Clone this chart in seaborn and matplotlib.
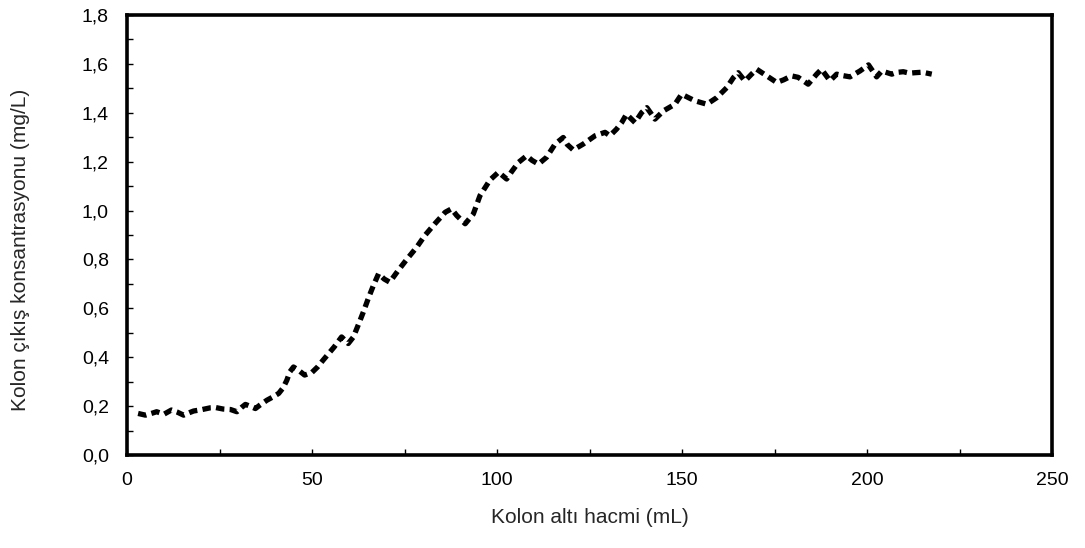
import matplotlib
matplotlib.use("Agg")
import matplotlib.pyplot as plt
import seaborn as sns
import pandas as pd
from matplotlib.ticker import MultipleLocator, FuncFormatter

volume = [3, 5, 7, 8, 10, 12, 13.5, 15.3, 17, 18, 20, 22.5, 24, 26, 28, 29.7, 31, 32, 33.5, 34.7,
          36, 37.8, 39.5, 41, 42.2, 43.2, 44, 45, 46.5, 48, 50, 51.5, 53, 54.5, 56, 58,
          59.8, 61.2, 63, 64, 65.2, 66.5, 68, 69.5, 71, 73.3, 75.6, 78.3, 80.5, 83.2, 86, 87.7,
          89.1, 91.4, 93.6, 95.4, 98.1, 100.4, 102.6, 104, 105.8, 108, 109.5, 111.2, 113.4,
          115.7, 117.9, 119, 120.6, 123.3, 126.5, 129.2, 130.5, 132.3, 133.7, 135, 137.3,
          139.1, 140.5, 142.7, 145, 148.1, 149.9, 152, 153.5, 156.7, 159.4, 162.1, 163.9,
          165.2, 167, 168.8, 170.2, 172.9, 175.6, 177.5, 179.6, 181.4, 184.1, 186.4, 187.7,
          190, 191.8, 193.5, 195.4, 198.1, 200.4, 202.6, 204, 206.7, 208, 209.8, 211.5, 213,
          215, 217.5]
conc = [0.170, 0.163, 0.172, 0.177, 0.167, 0.184, 0.176, 0.163, 0.174, 0.180, 0.185, 0.193,
        0.194, 0.188, 0.186, 0.177, 0.195, 0.207, 0.198, 0.190, 0.205, 0.224, 0.238, 0.252,
        0.275, 0.306, 0.340, 0.360, 0.345, 0.327, 0.338, 0.360, 0.388, 0.415, 0.442, 0.483,
        0.456, 0.483, 0.551, 0.590, 0.640, 0.690, 0.742, 0.720, 0.707, 0.755, 0.800, 0.850,
        0.898, 0.946, 0.993, 1.007, 0.980, 0.946, 0.986, 1.061, 1.125, 1.157, 1.129, 1.160,
        1.197, 1.224, 1.205, 1.190, 1.218, 1.272, 1.299, 1.270, 1.248, 1.272, 1.306, 1.320,
        1.306, 1.333, 1.360, 1.394, 1.360, 1.401, 1.421, 1.374, 1.408, 1.435, 1.476, 1.460,
        1.449, 1.435, 1.462, 1.503, 1.544, 1.564, 1.530, 1.558, 1.578, 1.551, 1.524, 1.535,
        1.551, 1.545, 1.517, 1.558, 1.578, 1.531, 1.558, 1.552, 1.547, 1.571, 1.596, 1.547,
        1.571, 1.558, 1.565, 1.568, 1.562, 1.564, 1.566, 1.558]

x_label = "Kolon altı hacmi (mL)"
y_label = "Kolon çıkış konsantrasyonu (mg/L)"

sns.set_style("white")
plt.rcParams['font.family'] = ['Liberation Sans', 'DejaVu Sans']

df = pd.DataFrame({"volume": volume, "conc": conc})

fig = plt.figure(figsize=(10.85, 5.48), dpi=100)
ax = fig.add_axes([127/1085, 1 - 455/548, (1052-127)/1085, (455-15)/548])

sns.lineplot(data=df, x="volume", y="conc", ax=ax, color="black", linewidth=3.8,
             linestyle=(0, (1.6, 1.0)), sort=False)

ax.set_xlim(0, 250)
ax.set_ylim(0, 1.8)
ax.xaxis.set_major_locator(MultipleLocator(50))
ax.xaxis.set_minor_locator(MultipleLocator(25))
ax.yaxis.set_major_locator(MultipleLocator(0.2))
ax.yaxis.set_minor_locator(MultipleLocator(0.1))
ax.yaxis.set_major_formatter(FuncFormatter(lambda v, p: f"{v:.1f}".replace(".", ",")))
ax.xaxis.set_major_formatter(FuncFormatter(lambda v, p: f"{v:.0f}"))

for s in ax.spines.values():
    s.set_linewidth(2.6)
    s.set_color("black")

ax.tick_params(axis="both", which="both", direction="in", color="black", width=1.0,
               labelsize=14, labelcolor="black")
ax.tick_params(axis="both", which="both", length=4)
ax.tick_params(axis="x", which="major", pad=12)
ax.tick_params(axis="y", which="major", pad=13)
ax.tick_params(axis="y", which="both", left=True)
ax.tick_params(axis="x", which="both", bottom=True)

ax.set_xlabel(x_label, fontsize=15)
ax.set_ylabel(y_label, fontsize=15)
ax.xaxis.set_label_coords(0.5, -0.12)
ax.yaxis.set_label_coords(-0.105, 0.466)

fig.savefig("out.png", dpi=100)
